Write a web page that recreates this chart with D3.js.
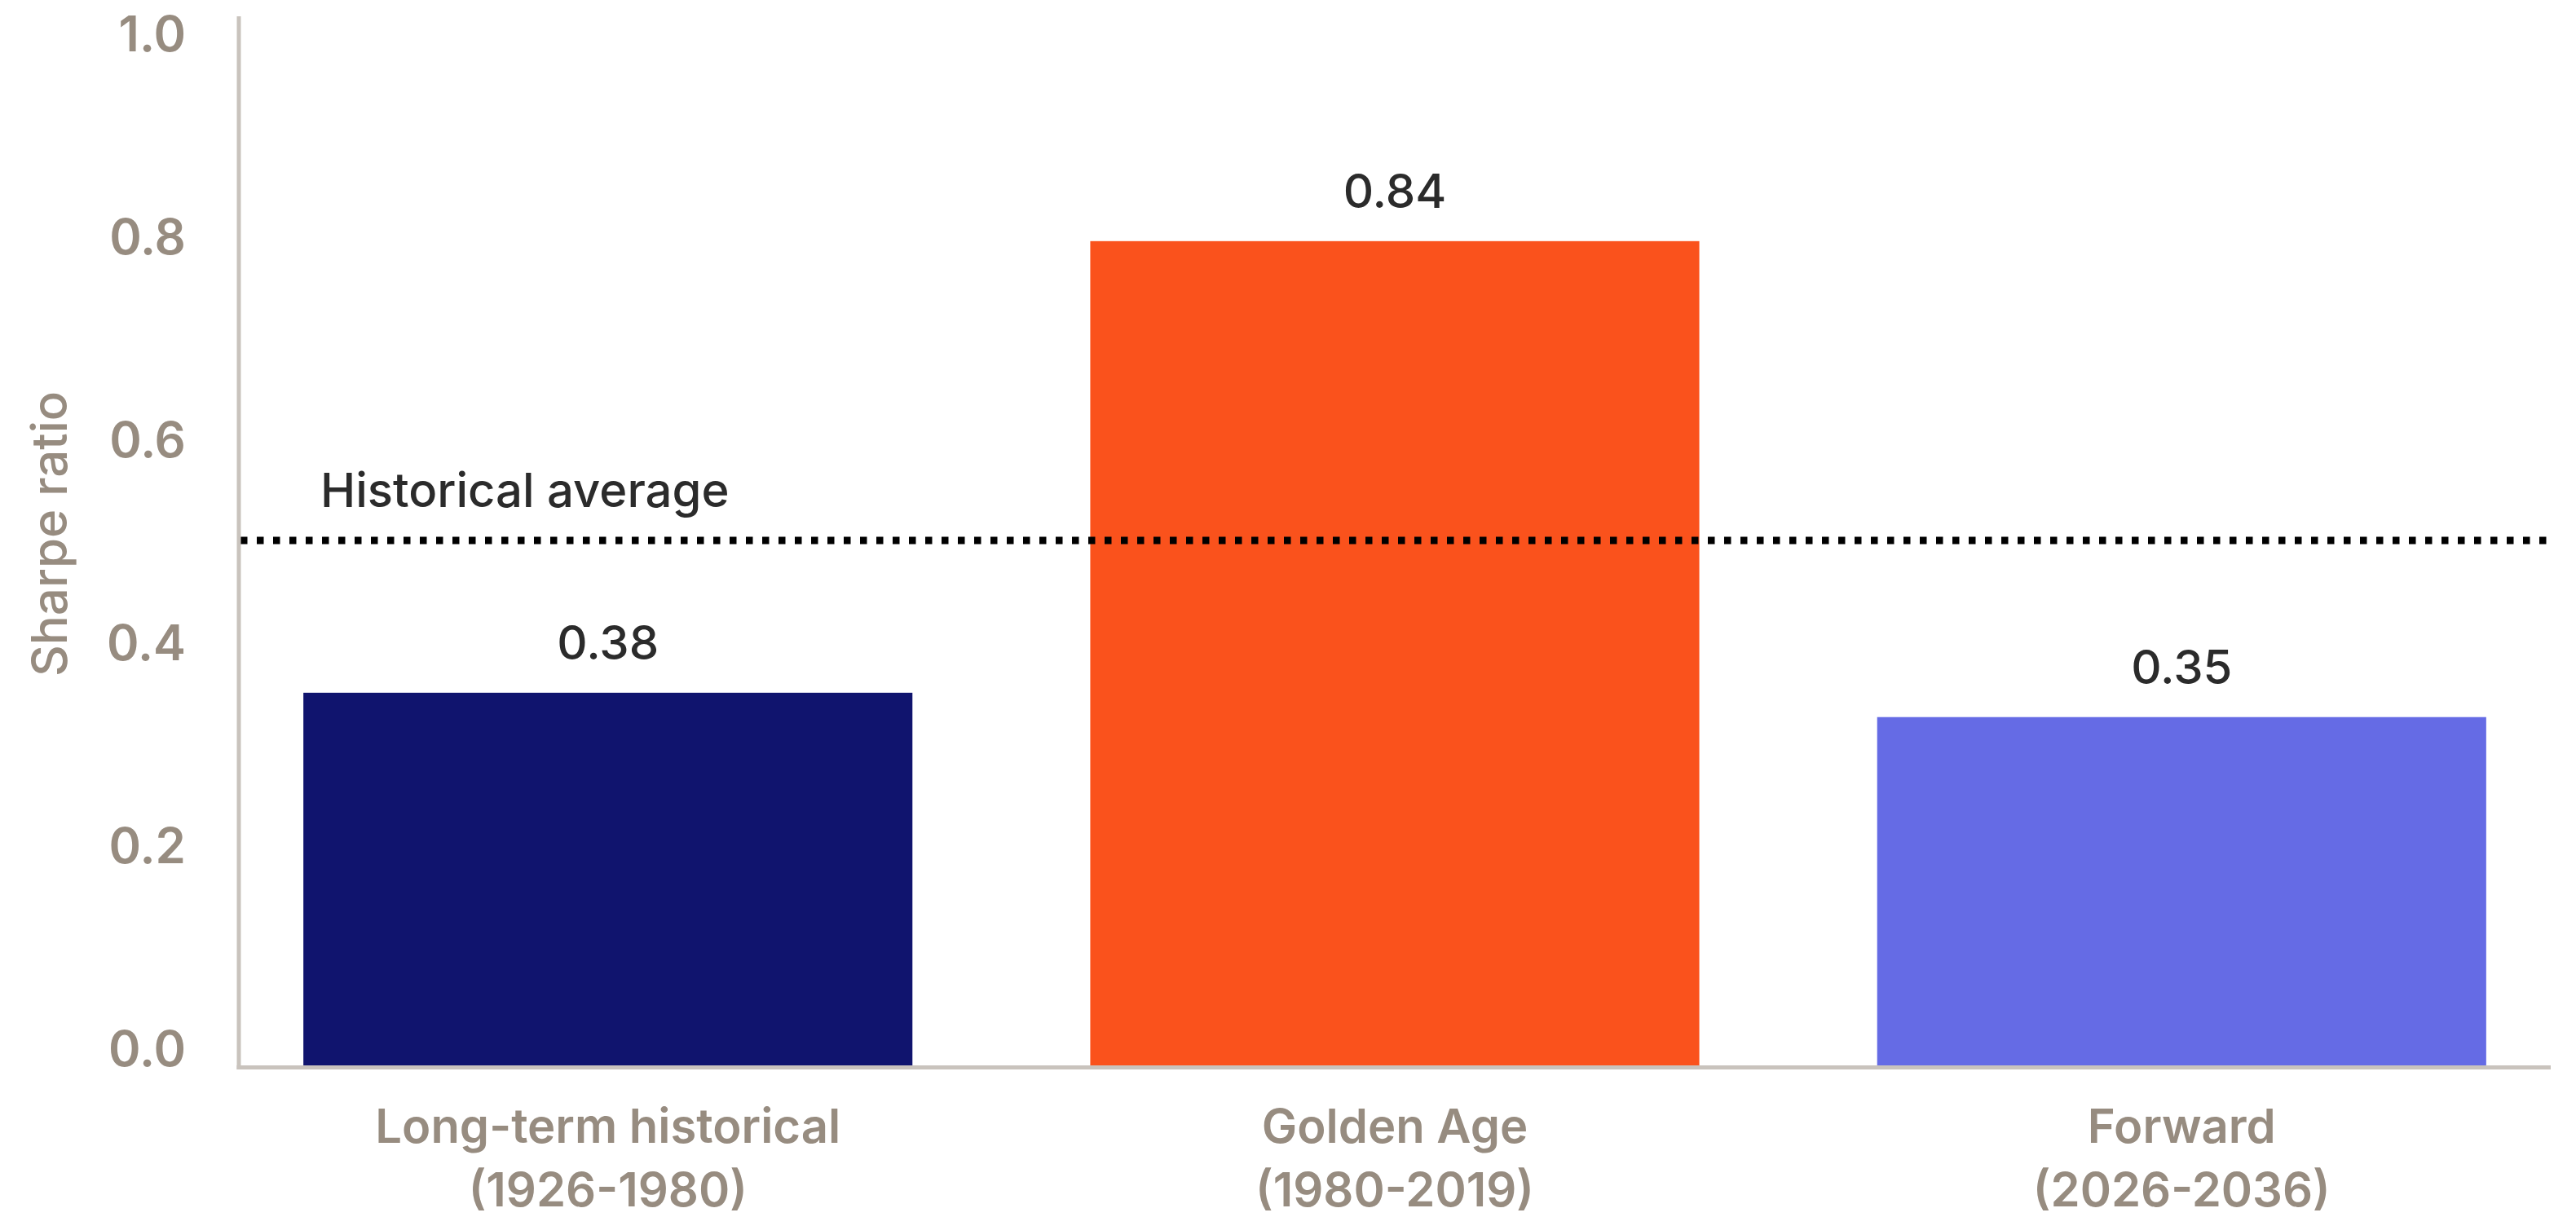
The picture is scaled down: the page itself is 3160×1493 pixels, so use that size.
<!DOCTYPE html>
<html>
<head>
<meta charset="utf-8">
<script src="https://cdn.jsdelivr.net/npm/d3@7"></script>
<style>
  html, body { margin: 0; padding: 0; background: #ffffff; }
  svg { display: block; }
  text { font-family: Inter, "Noto Sans", sans-serif; }
</style>
</head>
<body>
<svg id="chart" width="3160" height="1493"></svg>
<script>
// ---- data ----
const categories = ["Long-term historical", "Golden Age", "Forward"];
const periods = ["(1926-1980)", "(1980-2019)", "(2026-2036)"];
const values = [0.368, 0.813, 0.344];          // bar heights as drawn
const valueLabels = ["0.38", "0.84", "0.35"];   // printed labels
const barColors = ["#10146e", "#fa521c", "#656be5"];
const historicalAverage = 0.518;
const averageLabel = "Historical average";
const yTicks = [0, 0.2, 0.4, 0.6, 0.8, 1.0];
const yTitle = "Sharpe ratio";

// ---- layout ----
const svg = d3.select("#chart");
const axisX = 293, axisRight = 3129;
const gray = "#978c80", axisGray = "#c9c3bd", dark = "#2b2b2b";

const x = d3.scaleBand()
  .domain(categories)
  .range([axisX, axisRight])
  .paddingInner(0.226)
  .paddingOuter(0.082);

const y = d3.scaleLinear().domain([0, 1]).range([1308, 63]);

// bars
svg.append("g").selectAll("rect")
  .data(categories)
  .join("rect")
  .attr("x", d => x(d))
  .attr("width", x.bandwidth())
  .attr("y", (d, i) => y(values[i]))
  .attr("height", (d, i) => y(0) - y(values[i]))
  .attr("fill", (d, i) => barColors[i]);

// value labels
svg.append("g").selectAll("text")
  .data(categories)
  .join("text")
  .attr("x", d => x(d) + x.bandwidth() / 2)
  .attr("y", (d, i) => y(values[i]) - 41)
  .attr("text-anchor", "middle")
  .attr("font-size", 58)
  .attr("font-weight", 500)
  .attr("fill", dark)
  .text((d, i) => valueLabels[i]);

// historical average dotted line
svg.append("line")
  .attr("x1", axisX + 2).attr("x2", axisRight)
  .attr("y1", y(historicalAverage)).attr("y2", y(historicalAverage))
  .attr("stroke", "#000")
  .attr("stroke-width", 9)
  .attr("stroke-dasharray", "8.5 11.5");

svg.append("text")
  .attr("x", 393)
  .attr("y", y(historicalAverage) - 41)
  .attr("font-size", 58)
  .attr("font-weight", 500)
  .attr("fill", dark)
  .text(averageLabel);

// y axis (ticks via d3 axis)
const yAxis = d3.axisLeft(y)
  .tickValues(yTicks)
  .tickSize(0)
  .tickPadding(65)
  .tickFormat(d3.format(".1f"));

const gy = svg.append("g")
  .attr("transform", `translate(${axisX},0)`)
  .call(yAxis);
gy.select(".domain").remove();
gy.selectAll(".tick text")
  .attr("dy", "0")
  .attr("y", -1)
  .attr("font-size", 60)
  .attr("font-weight", 600)
  .attr("font-family", "Inter, 'Noto Sans', sans-serif")
  .attr("fill", gray);

// axis lines
svg.append("line")
  .attr("x1", axisX).attr("x2", axisX)
  .attr("y1", 20).attr("y2", 1312)
  .attr("stroke", axisGray).attr("stroke-width", 5);
svg.append("line")
  .attr("x1", axisX - 2.5).attr("x2", axisRight)
  .attr("y1", 1309.5).attr("y2", 1309.5)
  .attr("stroke", axisGray).attr("stroke-width", 5);

// x labels
const xl = svg.append("g").selectAll("text")
  .data(categories)
  .join("text")
  .attr("text-anchor", "middle")
  .attr("font-size", 58)
  .attr("font-weight", 600)
  .attr("fill", gray);
xl.append("tspan")
  .attr("x", d => x(d) + x.bandwidth() / 2)
  .attr("y", 1402)
  .text(d => d);
xl.append("tspan")
  .attr("x", d => x(d) + x.bandwidth() / 2)
  .attr("y", 1480)
  .text((d, i) => periods[i]);

// y title
svg.append("text")
  .attr("transform", `translate(82,655) rotate(-90)`)
  .attr("text-anchor", "middle")
  .attr("font-size", 60)
  .attr("font-weight", 500)
  .attr("fill", gray)
  .text(yTitle);
</script>
</body>
</html>
